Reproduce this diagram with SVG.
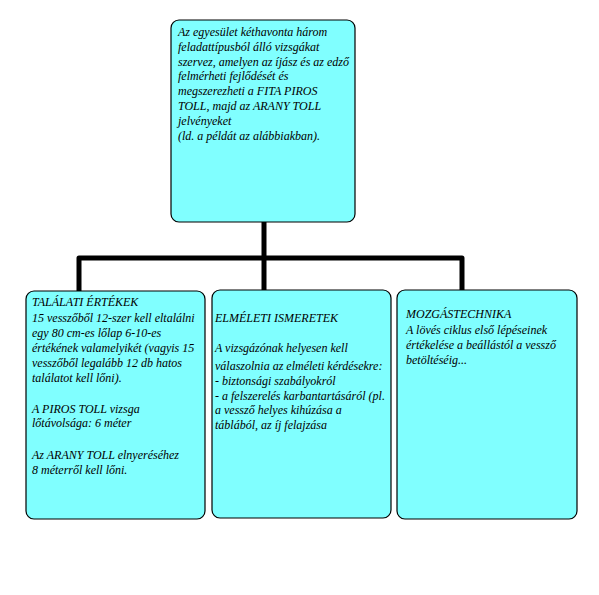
<svg xmlns="http://www.w3.org/2000/svg" width="599" height="595" viewBox="0 0 599 595">
<style>
.box{fill:#80ffff;stroke:#000;stroke-width:1.2}
.t{font-family:"Liberation Serif","Times New Roman",serif;font-style:italic;font-size:12px;fill:#000}
.c{stroke:#000;stroke-width:5;fill:none;stroke-linecap:round}
</style>
<rect width="599" height="595" fill="#fff"/>
<g id="connectors">
<path class="c" d="M264,222 V291 M79,258 H462 M79,258 V292 M462,258 V292"/>
</g>
<g id="top">
<rect class="box" x="171" y="20" width="184" height="202" rx="8"/>
<text class="t" x="178" y="36">Az egyesület kéthavonta három</text>
<text class="t" x="178" y="51">feladattípusból álló vizsgákat</text>
<text class="t" x="178" y="66">szervez, amelyen az íjász és az edző</text>
<text class="t" x="178" y="80">felmérheti fejlődését és</text>
<text class="t" x="178" y="95">megszerezheti a FITA PIROS</text>
<text class="t" x="178" y="110">TOLL, majd az ARANY TOLL</text>
<text class="t" x="178" y="125">jelvényeket</text>
<text class="t" x="178" y="140">(ld. a példát az alábbiakban).</text>
</g>
<g id="talalati">
<rect class="box" x="26" y="291" width="179" height="228" rx="8"/>
<text class="t" x="32" y="306">TALÁLATI ÉRTÉKEK</text>
<text class="t" x="32" y="322">15 vesszőből 12-szer kell eltalálni</text>
<text class="t" x="32" y="337">egy 80 cm-es lőlap 6-10-es</text>
<text class="t" x="32" y="352">értékének valamelyikét (vagyis 15</text>
<text class="t" x="32" y="367">vesszőből legalább 12 db hatos</text>
<text class="t" x="32" y="382">találatot kell lőni).</text>
<text class="t" x="32" y="413">A PIROS TOLL vizsga</text>
<text class="t" x="32" y="427">lőtávolsága:  6 méter</text>
<text class="t" x="32" y="459">Az ARANY TOLL elnyeréséhez</text>
<text class="t" x="32" y="474">8 méterről kell lőni.</text>
</g>
<g id="elmeleti">
<rect class="box" x="212" y="290" width="179" height="228" rx="8"/>
<text class="t" x="215" y="322">ELMÉLETI ISMERETEK</text>
<text class="t" x="215" y="352">A vizsgázónak helyesen kell</text>
<text class="t" x="215" y="370">válaszolnia az elméleti kérdésekre:</text>
<text class="t" x="215" y="385">- biztonsági szabályokról</text>
<text class="t" x="215" y="400">- a felszerelés karbantartásáról  (pl.</text>
<text class="t" x="215" y="414">a vessző helyes kihúzása a</text>
<text class="t" x="215" y="429">táblából, az íj felajzása</text>
</g>
<g id="mozgas">
<rect class="box" x="397" y="290" width="180" height="229" rx="8"/>
<text class="t" x="406" y="318">MOZGÁSTECHNIKA</text>
<text class="t" x="406" y="334">A lövés ciklus első lépéseinek</text>
<text class="t" x="406" y="349">értékelése a beállástól a vessző</text>
<text class="t" x="406" y="364">betöltéséig...</text>
</g>
</svg>
